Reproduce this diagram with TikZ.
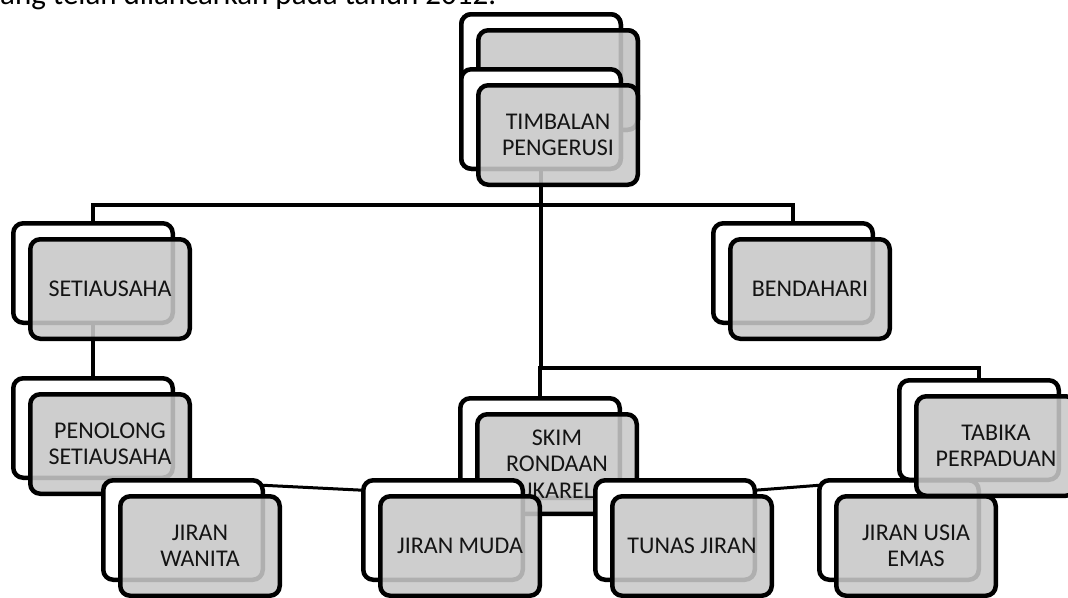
\documentclass[tikz,border=0pt]{standalone}
\usepackage{fontspec}
\setmainfont{Carlito}
\definecolor{boxgray}{RGB}{200,200,200}
\newcommand{\orgpair}[4]{%
  \node[backbox] (#1B) at (#2+2.25,#3+2.25) {};
  \node[frontbox] (#1F) at (#2+19.25,#3+18.25) {#4};
}
\begin{document}
\begin{tikzpicture}[x=1pt,y=-1pt,
  backbox/.style={draw=black, line width=4.5pt, rounded corners=10pt, fill=white,
    minimum width=159.5pt, minimum height=99.5pt, inner sep=0pt, outer sep=0pt, anchor=north west},
  frontbox/.style={backbox, fill=boxgray, fill opacity=0.88, text opacity=1, align=center,
    font=\fontsize{24}{26.5}\selectfont, text=black!92},
  conn/.style={line width=4pt, black},
  link/.style={line width=3pt, black}]
\useasboundingbox (0,0) rectangle (1068,597);
\begin{scope}
\clip (0,0) rectangle (1068,597);
\node[anchor=base west, inner sep=0pt, font=\fontsize{31}{36}\selectfont] (caption) at (0,5) {ang telah dilancarkan pada tahun 2012.};
\end{scope}

% named junction points
\coordinate (j1) at (541,205);
\coordinate (j2) at (541,368);

% TIMBALAN stack (nodes defined first for connectors)
\node[backbox] (timA) at (461.25,14.25) {};
\node[frontbox] (timB) at (478.25,30.25) {};
\node[backbox] (timC) at (461.25,69.25) {};

% placeholders giving the connector end points
\path (11+2.25,221+2.25) node[backbox, draw=none, fill=none] (setiP) {};
\path (711+2.25,221+2.25) node[backbox, draw=none, fill=none] (bendP) {};
\path (11+2.25,376+2.25) node[backbox, draw=none, fill=none] (penP) {};
\path (458+2.25,396+2.25) node[backbox, draw=none, fill=none] (skimP) {};
\path (897+2.25,378+2.25) node[backbox, draw=none, fill=none] (tabP) {};
\path (101+2.25,478+2.25) node[backbox, draw=none, fill=none] (wanP) {};
\path (361+2.25,478+2.25) node[backbox, draw=none, fill=none] (mudP) {};
\path (593+2.25,478+2.25) node[backbox, draw=none, fill=none] (tunP) {};
\path (817+2.25,478+2.25) node[backbox, draw=none, fill=none] (usiP) {};

% connectors (beneath the boxes)
\draw[conn] (timC.south) -- (timC.south |- j2) -| (skimP.north);
\draw[conn] (setiP.north) |- (j1) -| (bendP.north);
\draw[conn] (j2) -| (tabP.north);
\draw[conn] (setiP.south) -- (penP.north);
\draw[link] ([yshift=-5pt]wanP.north east) -- ([yshift=-10pt]mudP.north west);
\draw[link] ([yshift=-10pt]tunP.north east) -- ([yshift=-5pt]usiP.north west);

% TIMBALAN stack over the trunk
\node[backbox] at (461.25,14.25) {};
\node[frontbox] at (478.25,30.25) {};
\node[backbox] at (461.25,69.25) {};
\node[frontbox] (timD) at (478.25,85.25) {TIMBALAN\\PENGERUSI};

\orgpair{seti}{11}{221}{SETIAUSAHA}
\orgpair{bend}{711}{221}{BENDAHARI}
\orgpair{pen}{11}{376}{PENOLONG\\SETIAUSAHA}
\orgpair{wan}{101}{478}{JIRAN\\WANITA}
\orgpair{skim}{458}{396}{SKIM\\RONDAAN\\SUKARELA}
\orgpair{mud}{361}{478}{JIRAN MUDA}
\orgpair{tun}{593}{478}{TUNAS JIRAN}
\orgpair{usi}{817}{478}{JIRAN USIA\\EMAS}
\orgpair{tab}{897}{378}{TABIKA\\PERPADUAN}
\end{tikzpicture}
\end{document}
